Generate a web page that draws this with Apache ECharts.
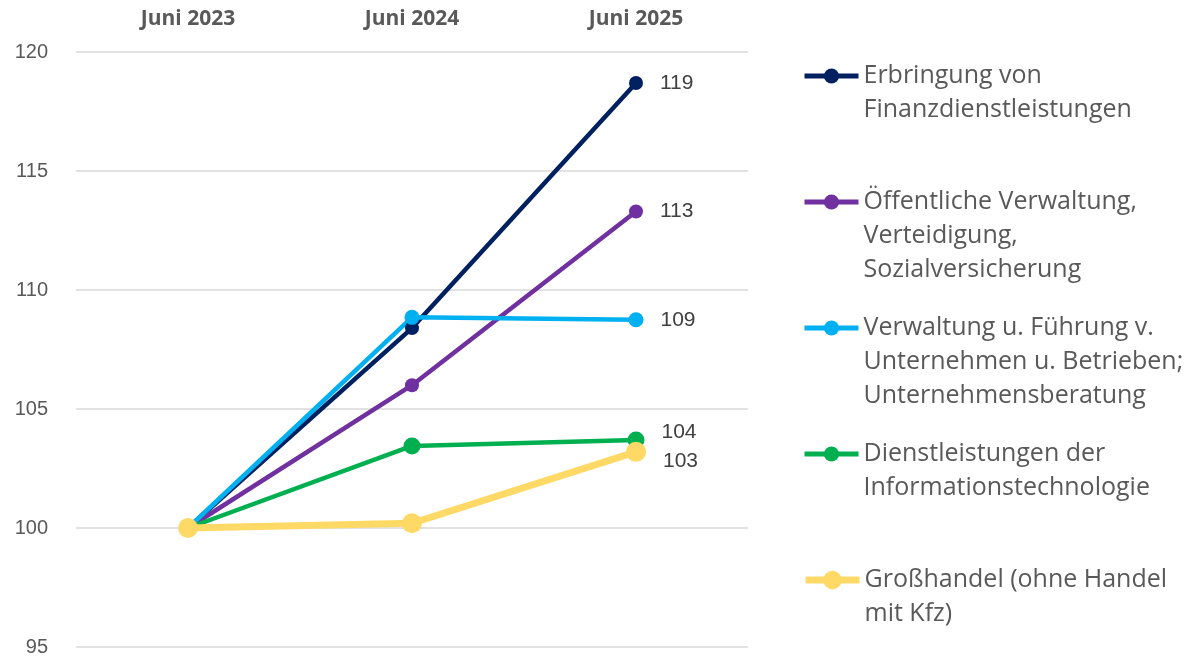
<!DOCTYPE html>
<html>
<head>
<meta charset="utf-8">
<script src="https://cdn.jsdelivr.net/npm/echarts@6/dist/echarts.min.js"></script>
<style>
  html, body { margin: 0; padding: 0; background: #fff; }
  #chart { width: 1200px; height: 657px; }
</style>
</head>
<body>
<div id="chart"></div>
<script>
// data
var categories = ['Juni 2023', 'Juni 2024', 'Juni 2025']
var finanz = [100, 108.4, 118.7]
var oeffentlich = [100, 106.0, 113.3]
var verwaltung = [100, 108.85, 108.75]
var itDienste = [100, 103.45, 103.7]
var grosshandel = [100, 100.2, 103.2]
var endLabels = ['119', '113', '109', '104', '103']
var yTicks = { min: 95, max: 120, interval: 5 }

var names = [
  'Erbringung von\nFinanzdienstleistungen',
  'Öffentliche Verwaltung,\nVerteidigung,\nSozialversicherung',
  'Verwaltung u. Führung v.\nUnternehmen u. Betrieben;\nUnternehmensberatung',
  'Dienstleistungen der\nInformationstechnologie',
  'Großhandel (ohne Handel\nmit Kfz)'
]
var colors = ['#002060', '#7030a0', '#00b0f0', '#00b050', '#ffd966']
var widths = [4.5, 4.5, 4.5, 4.5, 7]
var symSizes = [14, 14, 15, 17, 20]
var labelOffsets = [[0, 0], [0, 0], [0, 0], [0, -8], [0, 9]]
var legendY = [76, 202, 328, 454, 580]

var chart = echarts.init(document.getElementById('chart'))
var LH = 34

var seriesData = [finanz, oeffentlich, verwaltung, itDienste, grosshandel]
var series = seriesData.map(function (d, i) {
  return {
    name: names[i],
    type: 'line',
    data: d,
    symbol: 'circle',
    symbolSize: symSizes[i],
    lineStyle: { color: colors[i], width: widths[i] },
    itemStyle: { color: colors[i] },
    label: {
      show: true,
      position: 'right',
      distance: 17,
      offset: labelOffsets[i],
      fontFamily: 'Liberation Sans',
      fontSize: 21,
      color: '#404040',
      formatter: function (p) {
        return p.dataIndex === 2 ? endLabels[i] : ''
      }
    },
    emphasis: { disabled: true },
    animation: false
  }
})

// one legend per item so each can sit at its own height
var legends = names.map(function (n, i) {
  var lines = n.split('\n').length
  var pad = ''
  for (var k = 1; k < lines; k++) pad += '\n'
  return {
    data: [n],
    left: 802,
    top: legendY[i] - (2 * lines - 1) * LH / 2,
    padding: 0,
    itemWidth: 54,
    itemHeight: i === 4 ? 23 : 19,
    itemGap: 0,
    selectedMode: false,
    lineStyle: { width: i === 4 ? 7 : 5 },
    formatter: function (name) { return pad + name },
    textStyle: {
      fontFamily: 'Open Sans',
      fontSize: 25,
      lineHeight: LH,
      color: '#595959'
    }
  }
})

var option = {
  backgroundColor: '#fff',
  grid: { left: 76, right: 452, top: 52, bottom: 9 },
  legend: legends,
  xAxis: {
    type: 'category',
    position: 'top',
    data: categories,
    boundaryGap: true,
    axisLine: { show: false },
    axisTick: { show: false },
    axisLabel: {
      margin: 22,
      fontFamily: 'Open Sans',
      fontWeight: 'bold',
      fontSize: 21,
      color: '#595959'
    },
    splitLine: { show: false }
  },
  yAxis: {
    type: 'value',
    min: yTicks.min,
    max: yTicks.max,
    interval: yTicks.interval,
    axisLine: { show: false },
    axisTick: { show: false },
    axisLabel: {
      margin: 28,
      fontFamily: 'Liberation Sans',
      fontSize: 20,
      color: '#595959'
    },
    splitLine: { lineStyle: { color: '#d9d9d9', width: 1.5 } }
  },
  series: series
}
chart.setOption(option)
</script>
</body>
</html>
